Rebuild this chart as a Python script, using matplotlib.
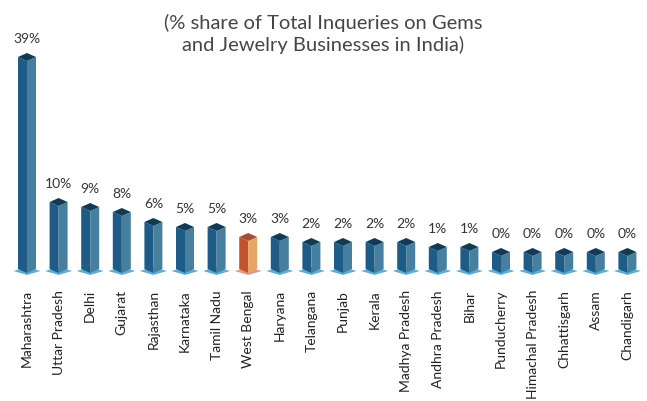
import matplotlib
matplotlib.use("Agg")
import matplotlib.pyplot as plt

# share of total inquiries per state (%)
states = ["Maharashtra", "Uttar Pradesh", "Delhi", "Gujarat", "Rajasthan",
          "Karnataka", "Tamil Nadu", "West Bengal", "Haryana", "Telangana",
          "Punjab", "Kerala", "Madhya Pradesh", "Andhra Pradesh", "Bihar",
          "Punducherry", "Himachal Pradesh", "Chhattisgarh", "Assam", "Chandigarh"]
share = [39, 10, 9, 8, 6, 5, 5, 3, 3, 2, 2, 2, 2, 1, 1, 0, 0, 0, 0, 0]
highlight = "West Bengal"

plt.rcParams['font.family'] = ['Lato', 'DejaVu Sans']

W, H = 647, 401
fig = plt.figure(figsize=(W / 100, H / 100), dpi=100)
ax = fig.add_axes([0, 0, 1, 1])

# pixel scale of the axes: x = one slot per state, y = percent
px_x = 31.6
px_y = 5.0
x0_px, base_px = 27, 273
ax.set_xlim(-x0_px / px_x, (W - x0_px) / px_x)
ax.set_ylim(-(H - base_px) / px_y, base_px / px_y)
ax.axis('off')

hw = 9 / px_x        # half width of a bar
dd = 4 / px_y        # half height of the top diamond
block = 17 / px_y    # minimum block so 0% still shows

blue = dict(left="#1f5b87", right="#47809f", top="#133a52", base="#5aaedc")
orange = dict(left="#c4522a", right="#e8a662", top="#a04e3a", base="#e09a86")

for i, (name, v) in enumerate(zip(states, share)):
    c = orange if name == highlight else blue
    h = block + v
    # base plate
    bw = 13.5 / px_x
    ax.fill([i - bw, i, i + bw, i], [0.4, 0.4 - dd, 0.4, 0.4 + dd],
            color=c["base"], lw=0, zorder=1)
    # left and right faces
    ax.fill([i - hw, i, i, i - hw], [dd, 0, h, h + dd],
            color=c["left"], lw=0, zorder=2)
    ax.fill([i, i + hw, i + hw, i], [0, dd, h + dd, h],
            color=c["right"], lw=0, zorder=2)
    # top
    ax.fill([i, i - hw, i, i + hw], [h, h + dd, h + 2 * dd, h + dd],
            color=c["top"], lw=0, zorder=3)
    ax.text(i, h + 2 * dd + 1.6, f"{v}%", ha='center', va='bottom',
            fontsize=10, color="#333333")
    ax.text(i, -17 / px_y, name, rotation=90, ha='center', va='top',
            fontsize=10, color="#222222")

fig.text(0.5, 1 - 34 / H,
         "(% share of Total Inqueries on Gems\nand Jewelry Businesses in India)",
         ha='center', va='center', fontsize=14.5, color="#454545",
         linespacing=1.2)

fig.savefig("out.png", dpi=100, facecolor="white")
